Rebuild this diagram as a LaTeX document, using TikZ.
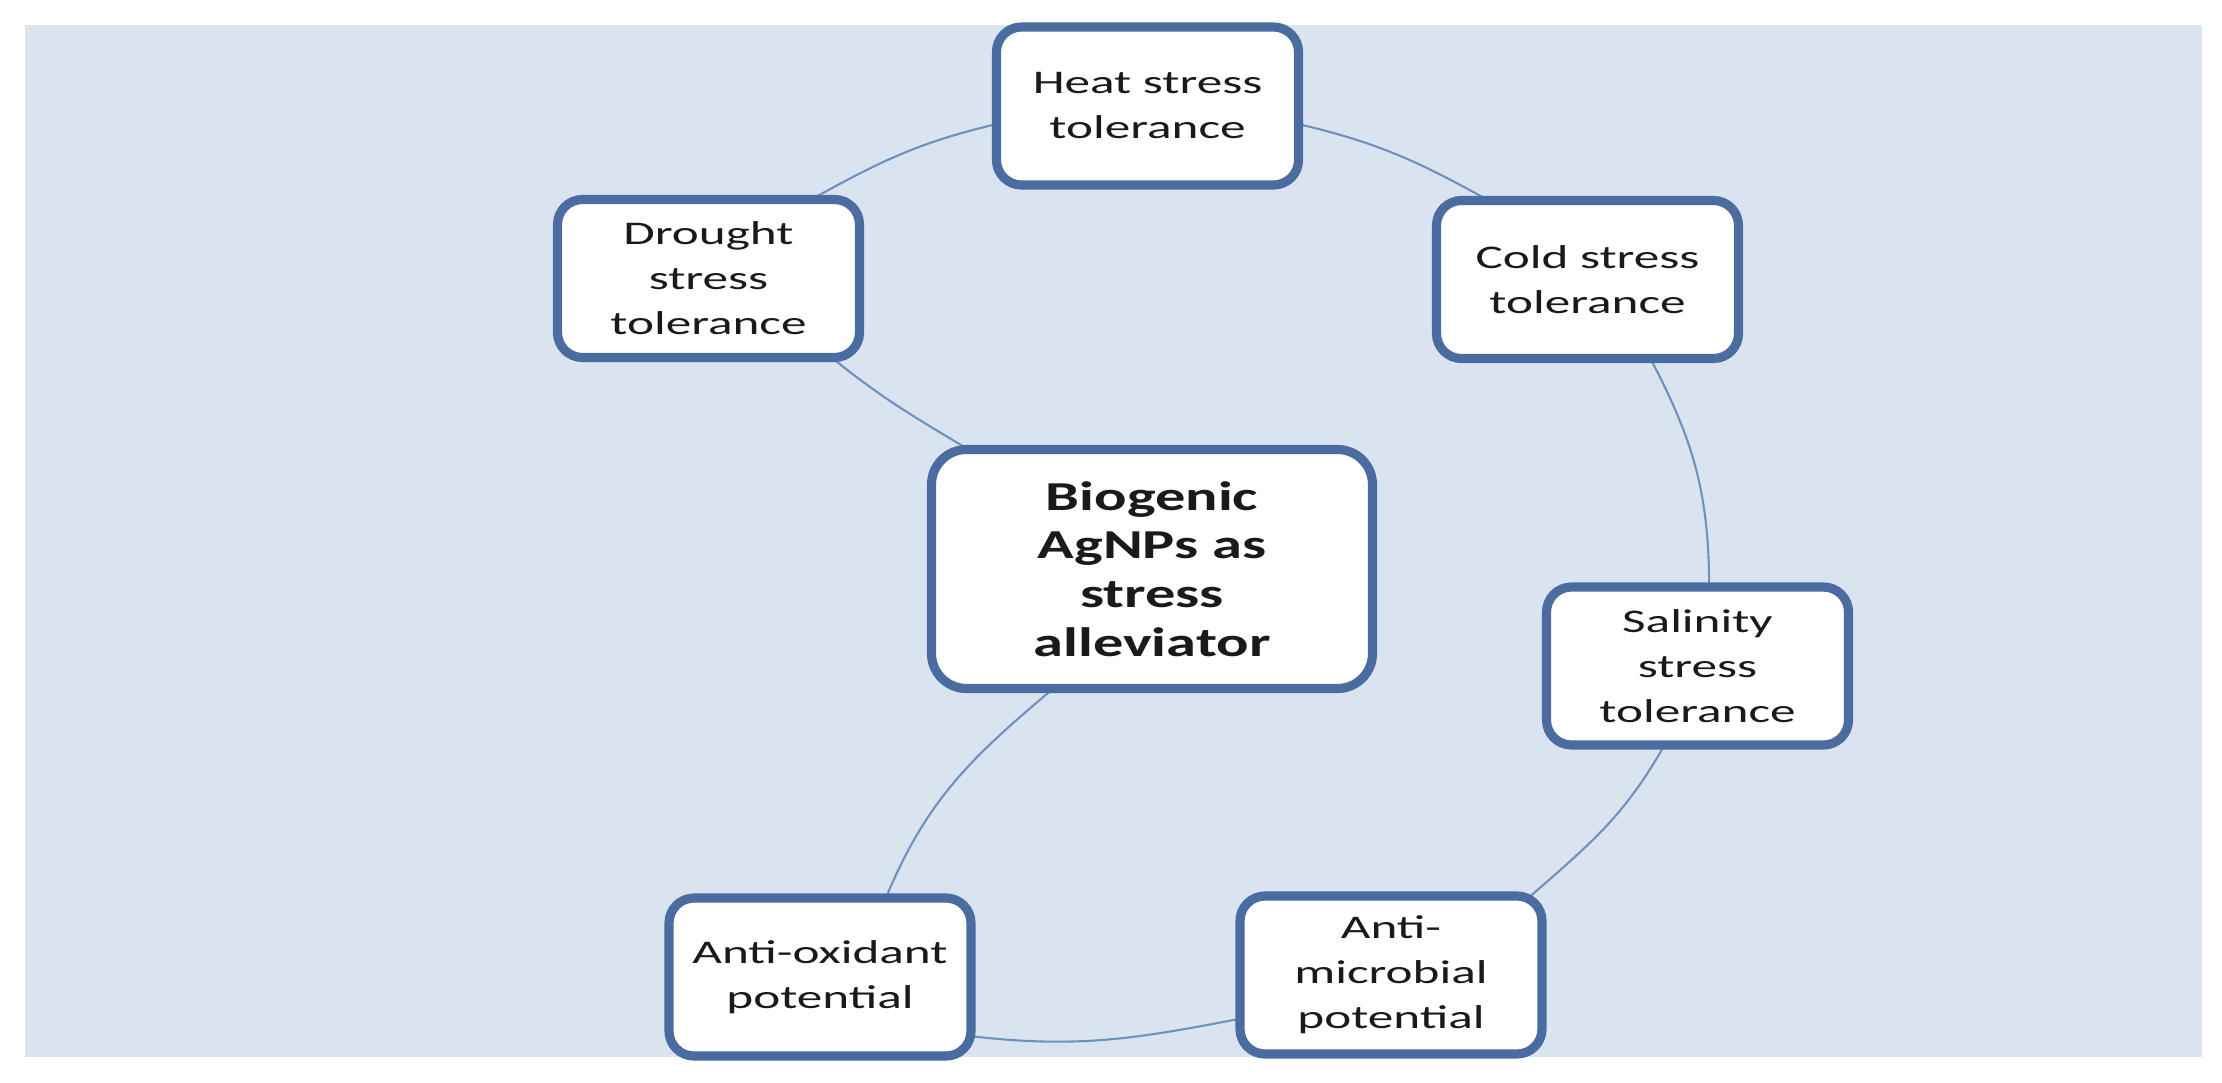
\documentclass[tikz,border=0pt]{standalone}
\usepackage{fontspec}
\setmainfont{Carlito}
\newfontfamily\boxfont{Carlito}[FakeStretch=1.55]
\newfontfamily\ctrfont{Carlito}[FakeStretch=1.47]
\definecolor{bgblue}{HTML}{DAE4F0}
\definecolor{boxline}{HTML}{4A6CA0}
\definecolor{conn}{HTML}{7090C0}
\definecolor{txt}{HTML}{1A1A1A}
\pgfdeclarelayer{bgl}
\pgfdeclarelayer{lines}
\pgfsetlayers{bgl,lines,main}
\begin{document}
\begin{tikzpicture}[x=1cm,y=1cm,
  item/.style={draw=boxline, line width=2.6pt, fill=white, rounded corners=0.25cm,
    minimum width=3.02cm, minimum height=1.58cm, inner sep=0pt, align=center,
    text=txt, font=\boxfont\fontsize{9.4}{12.8}\selectfont},
  hub/.style={item, rounded corners=0.35cm, minimum width=4.41cm, minimum height=2.39cm,
    font=\ctrfont\bfseries\fontsize{11.7}{13.9}\selectfont},
  link/.style={draw=conn, line width=0.6pt, shorten <=-3pt, shorten >=-3pt}]
\useasboundingbox (0,0) rectangle (22.22,-10.82);
\begin{pgfonlayer}{bgl}
  \fill[white] (0,0) rectangle (22.22,-10.82);
  \fill[bgblue] (0.25,-0.25) rectangle (22.02,-10.57);
\end{pgfonlayer}

\node[item] (heat) at (11.475,-1.06) {Heat stress\\tolerance};
\node[item] (drought) at (7.085,-2.785) {Drought\\stress\\tolerance};
\node[item] (cold) at (15.875,-2.795) {Cold stress\\tolerance};
\node[hub] (hub) at (11.52,-5.69) {Biogenic\\AgNPs as\\stress\\alleviator};
\node[item] (salinity) at (16.975,-6.66) {Salinity\\stress\\tolerance};
\node[item] (aox) at (8.20,-9.77) {Anti-oxidant\\potential};
\node[item] (amic) at (13.91,-9.75) {Anti-\\microbial\\potential};

\begin{pgfonlayer}{lines}
  \draw[link] (drought.37) to[out=29,in=193] (heat.187);
  \draw[link] (heat.-7) to[out=-13,in=151] (cold.142);
  \draw[link] (cold.-52) to[out=-62,in=90] (salinity.82);
  \draw[link] (salinity.247) to[out=-119,in=41] (amic.30);
  \draw[link] (amic.196) to[out=191,in=-7] (aox.-21);
  \draw[link] (aox.51) to[out=68,in=-140] (hub.230);
  \draw[link] (hub.147) to[out=149,in=-39] (drought.-33);
\end{pgfonlayer}
\end{tikzpicture}
\end{document}
